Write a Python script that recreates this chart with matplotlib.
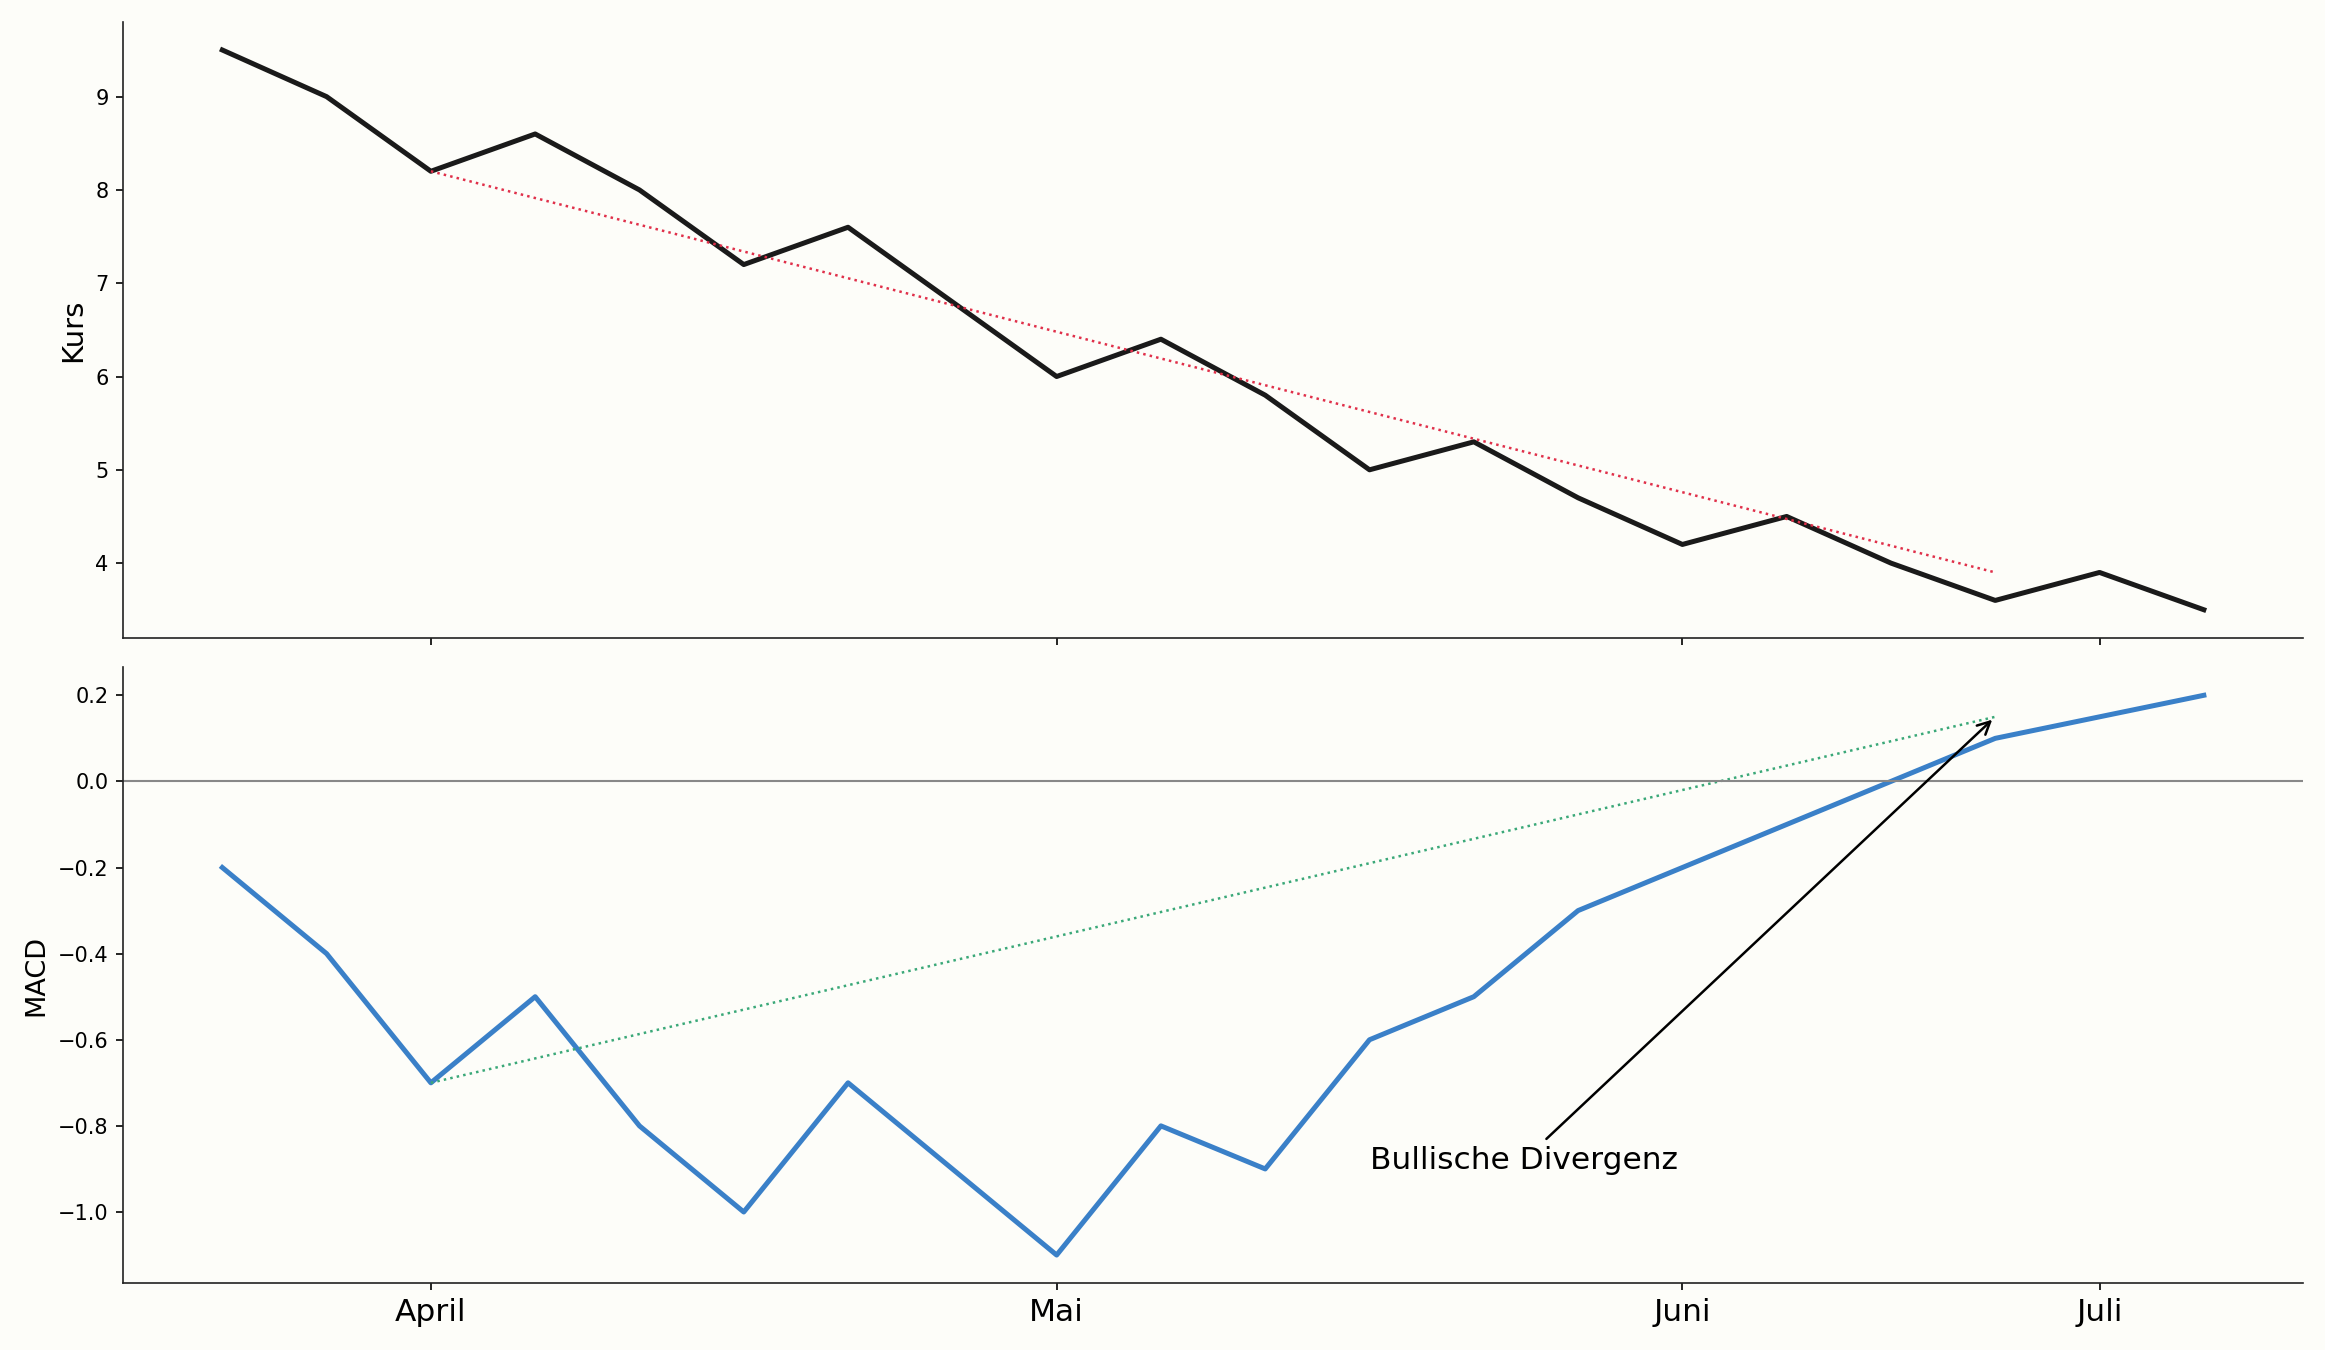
import matplotlib
matplotlib.use("Agg")
import matplotlib.pyplot as plt
import numpy as np

x_idx = list(range(20))
kurs = [9.5, 9.0, 8.2, 8.6, 8.0, 7.2, 7.6, 6.8, 6.0, 6.4, 5.8, 5.0, 5.3, 4.7, 4.2, 4.5, 4.0, 3.6, 3.9, 3.5]
macd = [-0.2, -0.4, -0.7, -0.5, -0.8, -1.0, -0.7, -0.9, -1.1, -0.8, -0.9, -0.6, -0.5, -0.3, -0.2, -0.1, 0.0, 0.1, 0.15, 0.2]
tick_pos = [2, 8, 14, 18]
tick_labels = ["April", "Mai", "Juni", "Juli"]
trend_x = [2, 17]
kurs_trend = [8.2, 3.9]
macd_trend = [-0.7, 0.15]
annot_text = "Bullische Divergenz"
annot_xy = (17, 0.15)
annot_xytext = (11, -0.9)

bg = "#fdfdf9"
fig, (ax1, ax2) = plt.subplots(2, 1, sharex=True, figsize=(15.5, 9), dpi=150, facecolor=bg)
fig.subplots_adjust(left=0.053, right=0.9905, top=0.9837, bottom=0.0496, hspace=0.048)

for ax in (ax1, ax2):
    ax.set_facecolor(bg)
    ax.spines["top"].set_visible(False)
    ax.spines["right"].set_visible(False)
    for s in ("left", "bottom"):
        ax.spines[s].set_color("#222222")
    ax.tick_params(axis="y", labelsize=10)

ax1.plot(x_idx, kurs, color="#1a1a1a", lw=2.4)
ax1.plot(trend_x, kurs_trend, color="#e0304a", lw=1.2, ls=":")
ax1.set_ylabel("Kurs", fontsize=14)

ax2.plot(x_idx, macd, color="#3a80c8", lw=2.4)
ax2.plot(trend_x, macd_trend, color="#3aa878", lw=1.2, ls=":")
ax2.axhline(0, color="#888888", lw=1.0)
ax2.set_ylabel("MACD", fontsize=13)
ax2.annotate(annot_text, xy=annot_xy, xytext=annot_xytext, fontsize=15,
             arrowprops=dict(arrowstyle="->", color="black", lw=1.2))

ax2.set_xticks(tick_pos)
ax2.set_xticklabels(tick_labels, fontsize=15)

fig.savefig("out.png", dpi=150, facecolor=bg)
